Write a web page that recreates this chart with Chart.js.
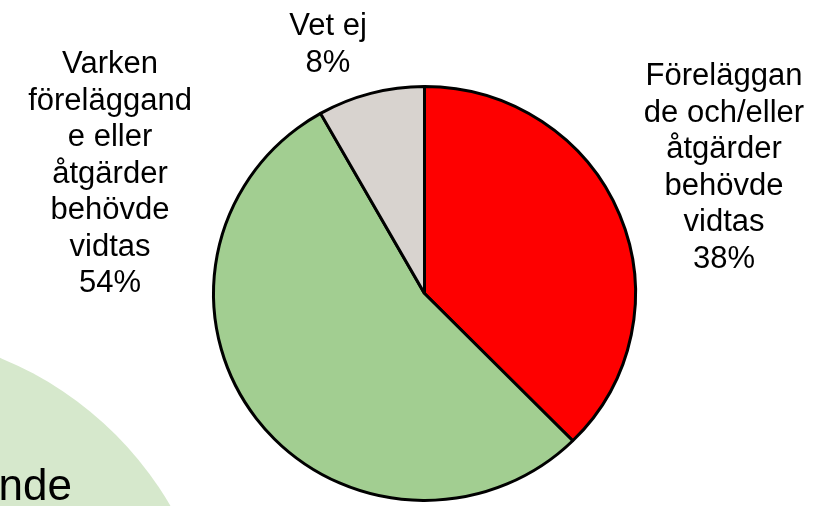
<!DOCTYPE html>
<html>
<head>
<meta charset="utf-8">
<script src="https://cdn.jsdelivr.net/npm/chart.js@4.4.0/dist/chart.umd.min.js"></script>
<style>
  html, body { margin: 0; padding: 0; background: #ffffff; }
  #wrap { width: 813px; height: 506px; position: relative; }
</style>
</head>
<body>
<div id="wrap"><canvas id="c" width="813" height="506"></canvas></div>
<script>
// ---- data ----
const categories = [
  ["Föreläggan", "de och/eller", "åtgärder", "behövde", "vidtas"],
  ["Varken", "föreläggand", "e eller", "åtgärder", "behövde", "vidtas"],
  ["Vet ej"]
];
const shares = [37.6, 54.2, 8.2];
const sliceColors = ["#FE0000", "#A2CE91", "#D8D3CF"];

// label anchor settings (layout only)
const labelAnchors = [
  { x: 724, y: 85 },
  { x: 110, y: 73 },
  { x: 328, y: 35 }
];

const backdropPlugin = {
  id: 'backdrop',
  beforeDraw(chart) {
    const ctx = chart.ctx;
    ctx.save();
    ctx.fillStyle = '#D6E8CC';
    ctx.beginPath();
    ctx.arc(-132, 682, 350, 0, Math.PI * 2);
    ctx.fill();
    ctx.fillStyle = '#000000';
    ctx.font = '44px "Liberation Sans", Arial, sans-serif';
    ctx.textAlign = 'right';
    ctx.textBaseline = 'alphabetic';
    ctx.fillText('nde', 72, 500);
    ctx.restore();
  }
};

// slight vertical squash of the pie, as in the reference image
const squashPlugin = {
  id: 'squash',
  beforeDatasetsDraw(chart) {
    const arc = chart.getDatasetMeta(0).data[0];
    const ctx = chart.ctx;
    ctx.save();
    ctx.translate(arc.x, arc.y);
    ctx.scale(1, 0.981);
    ctx.translate(-arc.x, -arc.y);
  },
  afterDatasetsDraw(chart) {
    chart.ctx.restore();
  }
};

const labelPlugin = {
  id: 'sliceLabels',
  afterDraw(chart) {
    const ctx = chart.ctx;
    const data = chart.data.datasets[0].data;
    const total = data.reduce((a, b) => a + b, 0);
    ctx.save();
    ctx.fillStyle = '#000000';
    ctx.font = '31px "Liberation Sans", Arial, sans-serif';
    ctx.textAlign = 'center';
    ctx.textBaseline = 'alphabetic';
    const lh = 36.5;
    chart.data.labels.forEach((lab, i) => {
      const lines = (Array.isArray(lab) ? lab : [lab]).slice();
      lines.push(Math.round(data[i] / total * 100) + '%');
      const a = labelAnchors[i];
      lines.forEach((t, k) => ctx.fillText(t, a.x, a.y + k * lh));
    });
    ctx.restore();
  }
};

new Chart(document.getElementById('c'), {
  type: 'pie',
  data: {
    labels: categories,
    datasets: [{
      data: shares,
      backgroundColor: sliceColors,
      borderColor: '#000000',
      borderWidth: 3,
      hoverOffset: 0
    }]
  },
  options: {
    responsive: false,
    animation: false,
    events: [],
    layout: { padding: { left: 212, right: 176, top: 81, bottom: 0 } },
    plugins: {
      legend: { display: false },
      tooltip: { enabled: false },
      title: { display: false }
    }
  },
  plugins: [backdropPlugin, squashPlugin, labelPlugin]
});
</script>
</body>
</html>
